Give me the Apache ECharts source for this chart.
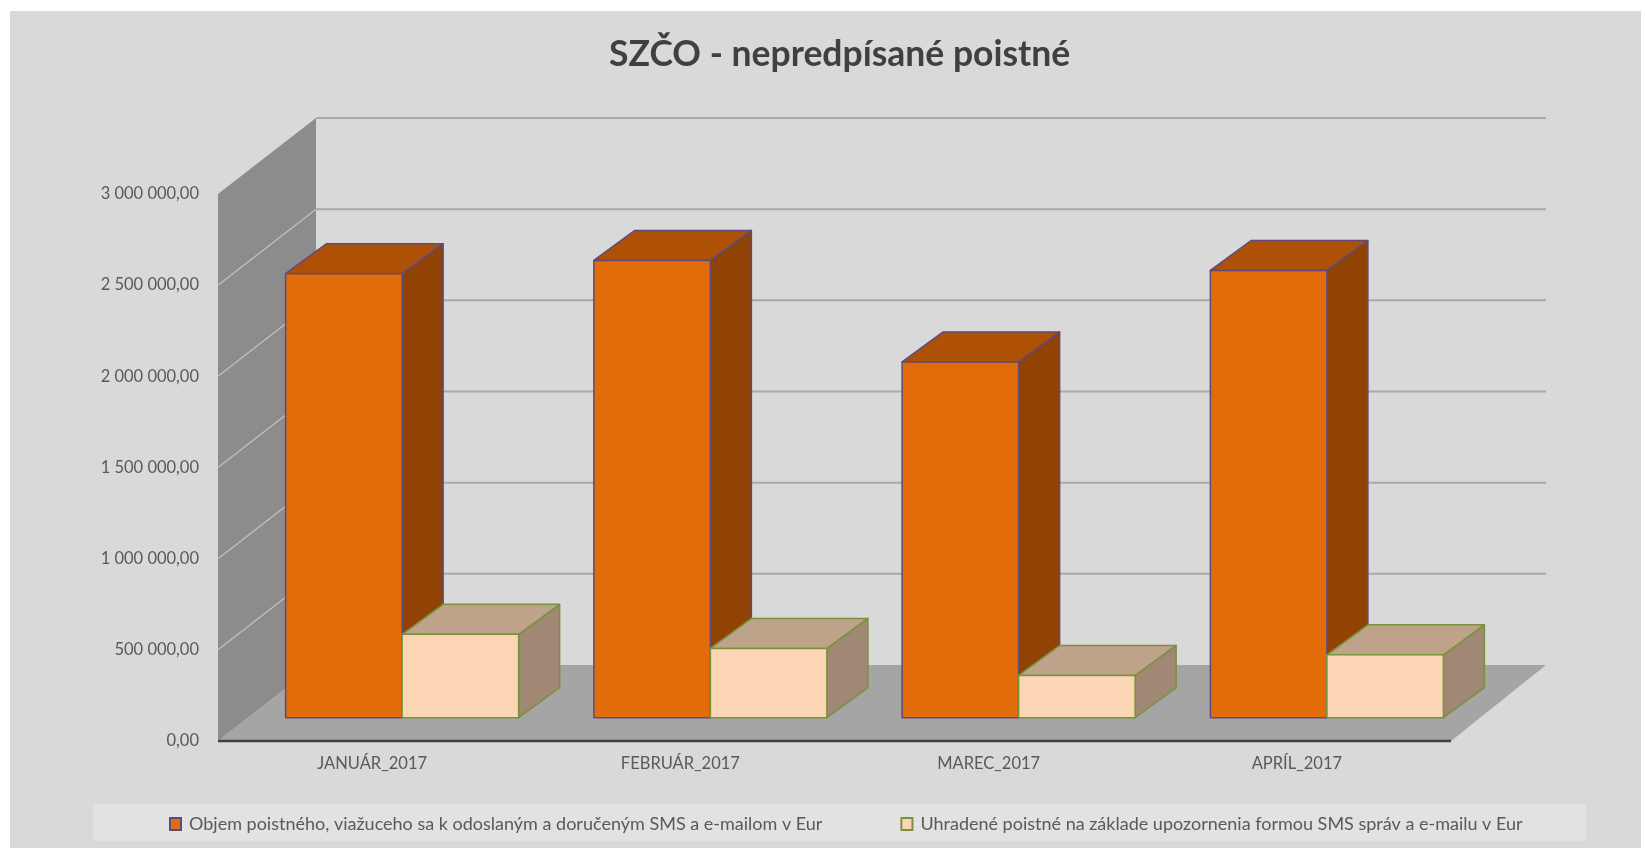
<!DOCTYPE html>
<html>
<head>
<meta charset="utf-8">
<title>SZČO - nepredpísané poistné</title>
<script src="https://cdn.jsdelivr.net/npm/echarts@6/dist/echarts.min.js"></script>
<style>
    html, body { margin: 0; padding: 0; background: #fff; }
    #main { width: 1645px; height: 848px; }
</style>
</head>
<body>
<div id="main"></div>
<script>
    var months = ['JANUÁR_2017', 'FEBRUÁR_2017', 'MAREC_2017', 'APRÍL_2017'];
    var objem = [2435000, 2508000, 1951000, 2453000];
    var uhradene = [457000, 380000, 232000, 345000];
    var yTicks = [0, 500000, 1000000, 1500000, 2000000, 2500000, 3000000];
    var names = [
        'Objem poistného, viažuceho sa k odoslaným a doručeným SMS a e-mailom v Eur',
        'Uhradené poistné na základe upozornenia formou SMS správ a e-mailu v Eur'
    ];

    // posun do hĺbky (3D pohľad ako v Exceli)
    var WALL = [98, -76];
    var D1 = [30, -23.3];
    var D2 = [71, -53.3];
    var FONT = 'Lato';

    function fmt(v) {
        return String(Math.round(v)).replace(/\B(?=(\d{3})+(?!\d))/g, ' ') + ',00';
    }

    function bar3d(shift, face, top, side, stroke) {
        return function (params, api) {
            var base = api.coord([api.value(0), 0]);
            var peak = api.coord([api.value(0), api.value(1)]);
            var bw = api.size([1, 0])[0] * 0.378;
            var x0 = base[0] + shift * bw + D1[0];
            var x1 = x0 + bw;
            var yb = base[1] + D1[1], yt = peak[1] + D1[1];
            var ex = D2[0] - D1[0], ey = D2[1] - D1[1];
            function st(fill) {
                return { fill: fill, stroke: stroke, lineWidth: 1.5, lineJoin: 'round' };
            }
            return {
                type: 'group',
                children: [
                    { type: 'polygon', shape: { points: [[x1, yt], [x1 + ex, yt + ey], [x1 + ex, yb + ey], [x1, yb]] }, style: st(side) },
                    { type: 'polygon', shape: { points: [[x0, yt], [x1, yt], [x1 + ex, yt + ey], [x0 + ex, yt + ey]] }, style: st(top) },
                    { type: 'rect', shape: { x: x0, y: yt, width: bw, height: yb - yt }, style: st(face) }
                ]
            };
        };
    }

    var chart = echarts.init(document.getElementById('main'));
    var option = {
        backgroundColor: '#ffffff',
        animation: false,
        graphic: [
            { type: 'rect', z: -10, shape: { x: 10, y: 11, width: 1631, height: 837 }, style: { fill: '#d9d9d9' } },
            { type: 'rect', z: -9, shape: { x: 93, y: 804, width: 1493, height: 37 }, style: { fill: '#e2e2e2' } }
        ],
        title: {
            text: 'SZČO - nepredpísané poistné',
            left: 609,
            top: 37,
            padding: 0,
            textStyle: { fontFamily: FONT, fontSize: 35.5, fontWeight: 'bold', color: '#404040' }
        },
        legend: {
            data: names,
            left: 169,
            top: 815,
            padding: 0,
            itemWidth: 11,
            itemHeight: 12,
            itemGap: 78,
            icon: 'rect',
            textStyle: { fontFamily: FONT, fontSize: 18, color: '#595959', padding: [0, 0, 0, 3] }
        },
        grid: { left: 218, right: 194, top: 194, bottom: 107 },
        xAxis: {
            type: 'category',
            data: months,
            axisLine: { show: false },
            axisTick: { show: false },
            splitLine: { show: false },
            axisLabel: { color: '#595959', fontFamily: FONT, fontSize: 16.5, margin: 14 }
        },
        yAxis: {
            type: 'value',
            min: 0,
            max: 3000000,
            interval: 500000,
            axisLine: { show: false },
            axisTick: { show: false },
            splitLine: { show: false },
            axisLabel: { color: '#595959', fontFamily: FONT, fontSize: 16.5, margin: 19, formatter: fmt }
        },
        series: [
            {
                // stena a podlaha
                type: 'custom',
                name: 'walls',
                silent: true,
                z: 1,
                clip: false,
                data: [[0, 0]],
                renderItem: function (params, api) {
                    var cs = params.coordSys;
                    var yTop = api.coord([0, yTicks[yTicks.length - 1]])[1];
                    var yBot = api.coord([0, 0])[1];
                    var xl = cs.x, xr = cs.x + cs.width;
                    return {
                        type: 'group',
                        children: [
                            { type: 'polygon', shape: { points: [[xl, yTop], [xl + WALL[0], yTop + WALL[1]], [xl + WALL[0], yBot + WALL[1]], [xl, yBot]] }, style: { fill: '#8c8c8c' } },
                            { type: 'polygon', shape: { points: [[xl, yBot], [xr, yBot], [xr + 95, yBot + WALL[1]], [xl + WALL[0], yBot + WALL[1]]] }, style: { fill: '#a5a5a5' } },
                            { type: 'line', shape: { x1: xl, y1: yBot, x2: xr, y2: yBot }, style: { stroke: '#404040', lineWidth: 2.5 } }
                        ]
                    };
                }
            },
            {
                // mriežka na stenách
                type: 'custom',
                name: 'gridlines',
                silent: true,
                z: 2,
                clip: false,
                data: yTicks.map(function (v) { return [0, v]; }),
                renderItem: function (params, api) {
                    if (api.value(1) === 0) return;
                    var cs = params.coordSys;
                    var y = api.coord([0, api.value(1)])[1];
                    var xl = cs.x, xr = cs.x + cs.width;
                    var kids = [
                        { type: 'line', shape: { x1: xl + WALL[0], y1: y + WALL[1], x2: xr + 95, y2: y + WALL[1] }, style: { stroke: '#a9a9a9', lineWidth: 2 } }
                    ];
                    if (api.value(1) < yTicks[yTicks.length - 1]) {
                        kids.push({ type: 'line', shape: { x1: xl, y1: y, x2: xl + WALL[0], y2: y + WALL[1] }, style: { stroke: '#c2c2c2', lineWidth: 1.2 } });
                    }
                    return { type: 'group', children: kids };
                }
            },
            {
                type: 'custom',
                name: names[0],
                z: 3,
                clip: false,
                itemStyle: { color: '#e26b0a', borderColor: '#604a7b', borderWidth: 1.5 },
                data: objem.map(function (v, i) { return [i, v]; }),
                encode: { x: 0, y: 1 },
                renderItem: bar3d(-1, '#e26b0a', '#ae5106', '#914305', '#604a7b')
            },
            {
                type: 'custom',
                name: names[1],
                z: 4,
                clip: false,
                itemStyle: { color: '#fcd5b5', borderColor: '#77933c', borderWidth: 1.5 },
                data: uhradene.map(function (v, i) { return [i, v]; }),
                encode: { x: 0, y: 1 },
                renderItem: bar3d(0, '#fcd5b5', '#bfa28a', '#a08875', '#77933c')
            }
        ]
    };
    chart.setOption(option);
</script>
</body>
</html>
